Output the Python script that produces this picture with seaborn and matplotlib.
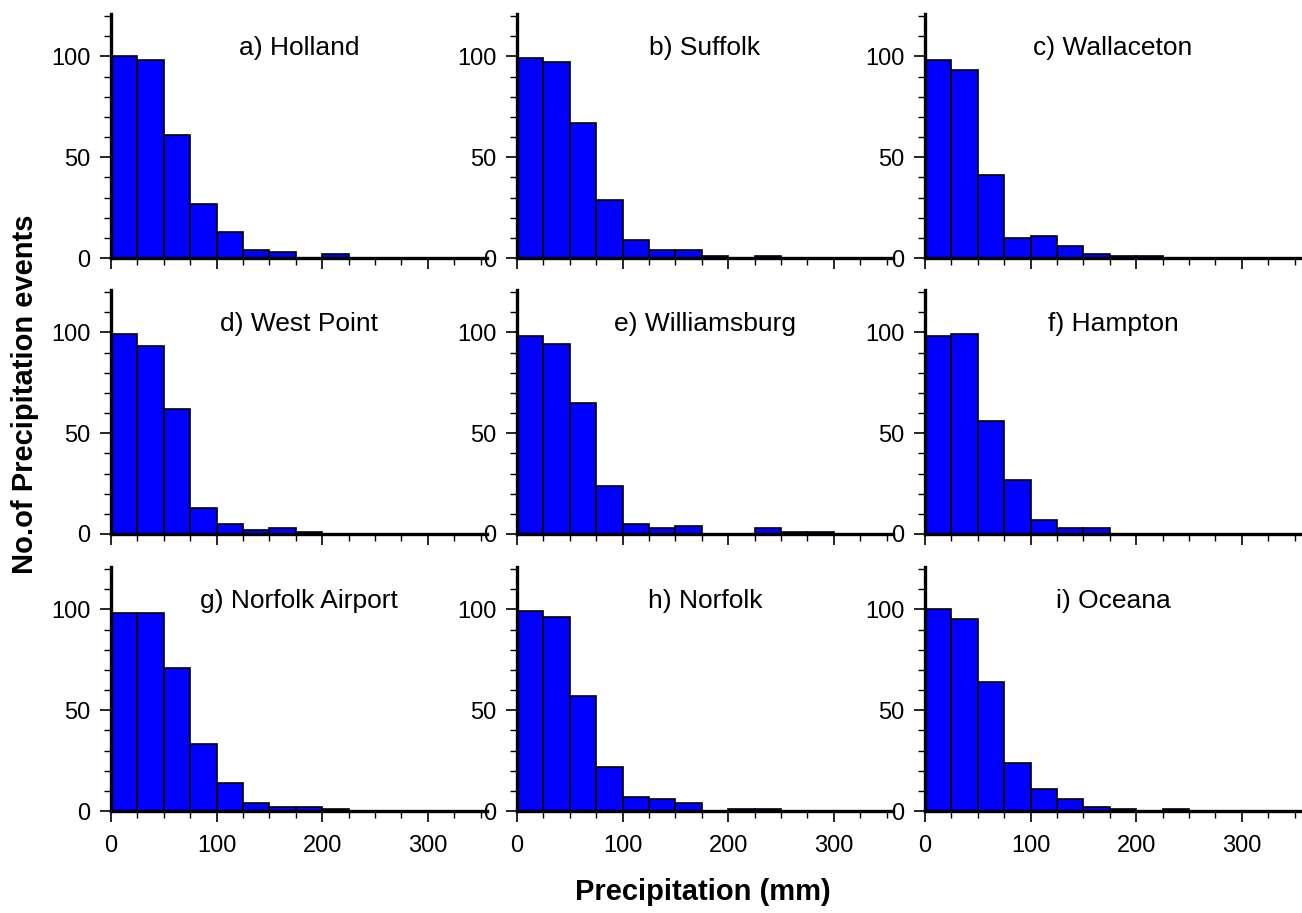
import numpy as np
import pandas as pd
import matplotlib
matplotlib.use("Agg")
import matplotlib.pyplot as plt
import seaborn as sns
from matplotlib.ticker import MultipleLocator

sns.set_style("ticks")
plt.rcParams['font.family'] = ['Liberation Sans', 'DejaVu Sans']
plt.rcParams['text.color'] = 'black'
plt.rcParams['axes.labelcolor'] = 'black'
plt.rcParams['xtick.color'] = 'black'
plt.rcParams['ytick.color'] = 'black'

# Bin edges (mm): 0-350 in steps of 25
bin_edges = list(range(0, 351, 25))

stations = ["a) Holland", "b) Suffolk", "c) Wallaceton",
            "d) West Point", "e) Williamsburg", "f) Hampton",
            "g) Norfolk Airport", "h) Norfolk", "i) Oceana"]

holland        = [100, 98, 61, 27, 13, 4, 3, 0, 2, 0, 0, 0, 0, 0]
suffolk        = [99, 97, 67, 29, 9, 4, 4, 1, 0, 1, 0, 0, 0, 0]
wallaceton     = [98, 93, 41, 10, 11, 6, 2, 1, 1, 0, 0, 0, 0, 0]
west_point     = [99, 93, 62, 13, 5, 2, 3, 1, 0, 0, 0, 0, 0, 0]
williamsburg   = [98, 94, 65, 24, 5, 3, 4, 0, 0, 3, 1, 1, 0, 0]
hampton        = [98, 99, 56, 27, 7, 3, 3, 0, 0, 0, 0, 0, 0, 0]
norfolk_airport = [98, 98, 71, 33, 14, 4, 2, 2, 1, 0, 0, 0, 0, 0]
norfolk        = [99, 96, 57, 22, 7, 6, 4, 0, 1, 1, 0, 0, 0, 0]
oceana         = [100, 95, 64, 24, 11, 6, 2, 1, 0, 1, 0, 0, 0, 0]

counts = [holland, suffolk, wallaceton, west_point, williamsburg,
          hampton, norfolk_airport, norfolk, oceana]

x_ticks = [0, 100, 200, 300]
y_ticks = [0, 50, 100]

fig = plt.figure(figsize=(13.02, 9.13), dpi=100)

col_left = [111 / 1302, 517 / 1302, 925 / 1302]
width = 376 / 1302
row_bottom = [1 - 258 / 913, 1 - 534 / 913, 1 - 811 / 913]
height = 244 / 913

centers = [(bin_edges[i] + bin_edges[i + 1]) / 2 for i in range(len(bin_edges) - 1)]

for k, (name, cnt) in enumerate(zip(stations, counts)):
    r, c = divmod(k, 3)
    ax = fig.add_axes([col_left[c], row_bottom[r], width, height])
    df = pd.DataFrame({"precip": centers, "n": cnt})
    sns.histplot(data=df, x="precip", weights="n", bins=bin_edges, ax=ax,
                 color="#0000ff", edgecolor="black", linewidth=1.2, alpha=1.0)
    ax.set_xlim(0, 356)
    ax.set_ylim(0, 121)
    sns.despine(ax=ax)
    for sp in ["left", "bottom"]:
        ax.spines[sp].set_linewidth(2.4)
        ax.spines[sp].set_color("black")
    ax.set_xticks(x_ticks)
    ax.set_yticks(y_ticks)
    ax.xaxis.set_minor_locator(MultipleLocator(25))
    ax.yaxis.set_minor_locator(MultipleLocator(10))
    ax.tick_params(which="major", length=8, width=1.2, labelsize=17,
                   direction="out", colors="black")
    ax.tick_params(axis="y", which="major", pad=7)
    ax.tick_params(axis="x", which="major", pad=9)
    ax.tick_params(which="minor", length=5, width=1.0, direction="out", colors="black")
    if r < 2:
        ax.set_xticklabels([])
    ax.set_xlabel("")
    ax.set_ylabel("")
    ax.text(0.5, 0.83, name, transform=ax.transAxes, ha="center",
            va="baseline", fontsize=19, color="black")

fig.text(0.019, 1 - 394 / 913, "No.of Precipitation events", rotation=90,
         ha="center", va="center", fontsize=21, fontweight="bold", color="black")
fig.text(703 / 1302, 1 - 892 / 913, "Precipitation (mm)", ha="center",
         va="center", fontsize=21, fontweight="bold", color="black")

fig.savefig("out.png", dpi=100)
